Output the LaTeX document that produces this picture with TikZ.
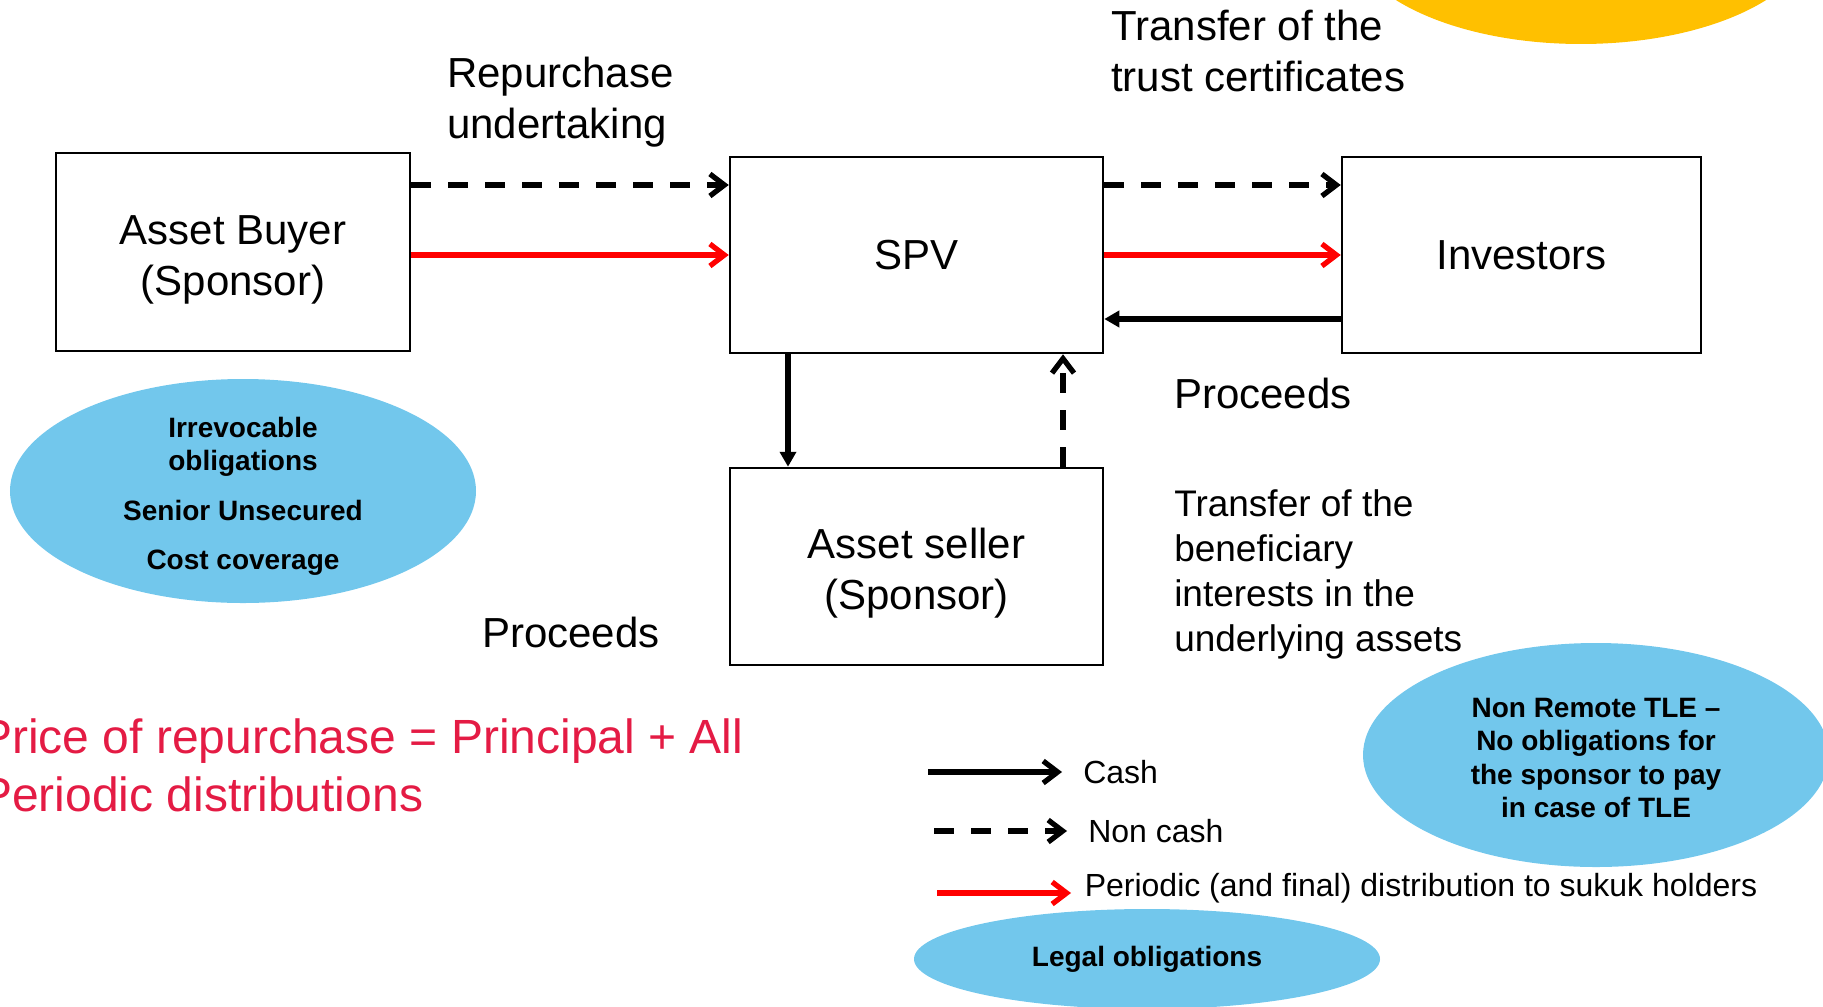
\documentclass[tikz,border=0pt]{standalone}
\usepackage{fontspec}
\setmainfont{Liberation Sans}
\usetikzlibrary{arrows.meta, shapes.geometric, positioning}
\definecolor{flowRed}{HTML}{FF0000}
\definecolor{noteRed}{HTML}{E41B44}
\definecolor{noteBlue}{HTML}{72C7EC}
\definecolor{noteGold}{HTML}{FFC000}
\tikzset{
  % thin box outlines, heavy flow arrows
  every picture/.append style = {line width=1pt},
  party/.style    = {draw, rectangle, inner sep=0pt, align=center,
                     font=\fontsize{16.8}{20.4}\selectfont},
  cash/.style     = {-{Triangle[length=6pt, width=6.4pt]}, line width=2.1pt},
  keycash/.style  = {line width=2.1pt, -{Straight Barb[length=5.8pt, width=8.8pt]}},
  noncash/.style  = {-{Straight Barb[length=5.8pt, width=8.8pt]}, line width=2.1pt,
                     dash pattern=on 8pt off 6.8pt},
  payout/.style   = {-{Straight Barb[length=5.8pt, width=8.8pt]}, flowRed, line width=2.1pt},
  lbl/.style      = {anchor=west, align=left, inner sep=0pt,
                     font=\fontsize{16.8}{20.4}\selectfont},
  slbl/.style     = {lbl, font=\fontsize{14.8}{18}\selectfont},
  bubble/.style   = {ellipse, fill=noteBlue, inner sep=0pt, align=center,
                     minimum width=186.4pt, minimum height=89.6pt,
                     font=\bfseries\fontsize{11.2}{13.4}\selectfont},
  keylbl/.style   = {anchor=west, inner sep=0pt, font=\fontsize{12.8}{15}\selectfont},
}

\begin{document}
\begin{tikzpicture}[x=0.4pt, y=-0.4pt]
  \clip (0,0) rectangle (1823,1006);
  % gold blob in the top corner
  \fill[noteGold] (1581,-68) ellipse [x radius=233, y radius=112];
  % parties (the struts push two-line texts a little lower)
  \node[party, minimum width=141.6pt, minimum height=79.2pt] (buyer) at (233,252)
    {\rule{0pt}{17.8pt}Asset Buyer\\(Sponsor)};
  \node[party, minimum width=149.2pt, minimum height=78.4pt] (spv) at (916.5,255) {SPV};
  \node[party, minimum width=143.6pt, minimum height=78.4pt] (investors) at (1521.5,255) {Investors};
  \node[party, minimum width=149.2pt, minimum height=78.8pt] (seller) at (916.5,566.5)
    {\rule{0pt}{17.8pt}Asset seller\\(Sponsor)};
  % levels of the horizontal flows
  \coordinate (upper) at (0,185);
  \coordinate (middle) at (0,255);
  \coordinate (lower) at (0,319);
  \coordinate (leftcol) at (788,0);
  \coordinate (rightcol) at (1063,0);
  % flows
  \draw[noncash] (buyer.east |- upper) -- (spv.west |- upper);
  \draw[payout] (buyer.east |- middle) -- (spv.west |- middle);
  \draw[noncash] (spv.east |- upper) -- (investors.west |- upper);
  \draw[payout] (spv.east |- middle) -- (investors.west |- middle);
  \draw[cash] (investors.west |- lower) -- (spv.east |- lower);
  \draw[cash] (leftcol |- spv.south) -- (leftcol |- seller.north);
  \draw[noncash] (rightcol |- seller.north) -- (rightcol |- spv.south);
  % labels
  \node[lbl] (repurchase) at (446,102) {Repurchase\\undertaking};
  \node[lbl] (trustcert) at (1110,51) {Transfer of the\\trust certificates};
  \node[lbl] (proceedsR) at (1173,393) {Proceeds};
  \node[slbl] (beneficial) at (1173,574) {Transfer of the\\beneficiary\\interests in the\\underlying assets};
  \node[lbl] (proceedsL) at (481,632) {Proceeds};
  \node[lbl, noteRed, font=\fontsize{19.2}{23.2}\selectfont] (price) at (-21,765)
    {Price of repurchase = Principal + All\\Periodic distributions};
  % notes
  \node[bubble, inner ysep=-5pt] (irrevocable) at (243,491)
    {\rule{0pt}{12.2pt}Irrevocable\\obligations\\[6.4pt]Senior Unsecured\\[6.4pt]Cost coverage};
  \node[bubble] (nonremote) at (1596,755)
    {\rule{0pt}{10.2pt}Non Remote TLE –\\No obligations for\\the sponsor to pay\\in case of TLE};
  \node[bubble, minimum height=40pt] (legal) at (1147,959) {Legal obligations};
  % key
  \coordinate (cashA) at (928,772);
  \coordinate (cashB) at (1062,772);
  \coordinate (noncashA) at (934,831);
  \coordinate (noncashB) at (1067,831);
  \coordinate (payA) at (937,893);
  \coordinate (payB) at (1071,893);
  \draw[keycash] (cashA) -- (cashB);
  \draw[noncash] (noncashA) -- (noncashB);
  \draw[payout] (payA) -- (payB);
  \node[keylbl, right=8pt of cashB] (cashkey) {Cash};
  \node[keylbl, right=8pt of noncashB] (noncashkey) {Non cash};
  \node[keylbl, right=5pt of payB, yshift=2pt] (paykey) {Periodic (and final) distribution to sukuk holders};
\end{tikzpicture}
\end{document}
